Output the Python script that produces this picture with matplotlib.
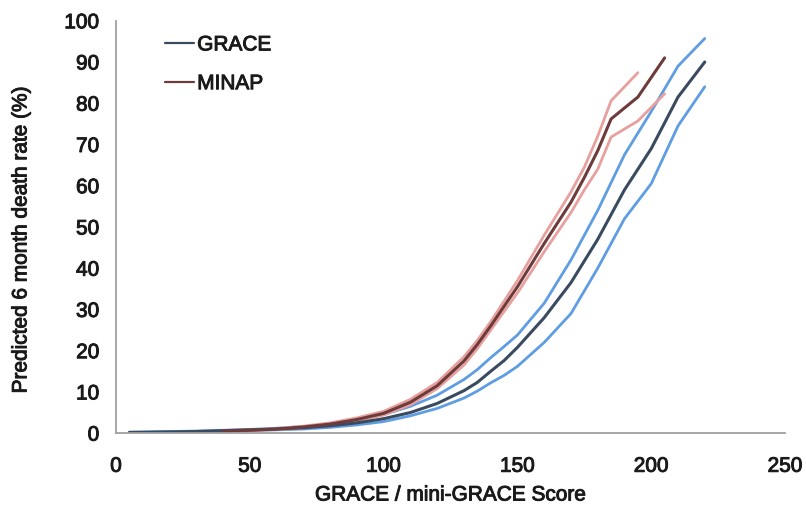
import matplotlib
matplotlib.use("Agg")
import matplotlib.pyplot as plt
import matplotlib.patheffects as pe

plt.rcParams['font.family'] = ['Liberation Sans', 'DejaVu Sans']

# GRACE score model with 95% bounds
grace_x = [5, 10, 20, 30, 40, 50, 60, 70, 80, 90, 100, 110, 120, 130, 135,
           140, 145, 150, 160, 170, 180, 190, 200, 210, 220]
grace_mid = [0.2, 0.2, 0.3, 0.4, 0.6, 0.8, 1.0, 1.3, 1.8, 2.5, 3.5, 5.0, 7.2,
             10.3, 12.3, 15.0, 17.6, 20.8, 28.0, 36.5, 47.0, 59.0, 69.0, 81.5, 90.0]
grace_hi = [0.2, 0.3, 0.4, 0.5, 0.7, 0.9, 1.2, 1.6, 2.2, 3.2, 4.5, 6.5, 9.2,
            13.0, 15.4, 18.3, 21.0, 23.8, 31.5, 42.0, 54.0, 67.5, 78.0, 89.0, 95.7]
grace_lo = [0.1, 0.1, 0.2, 0.3, 0.4, 0.6, 0.8, 1.0, 1.4, 2.0, 2.8, 4.2, 6.0,
            8.5, 10.2, 12.2, 14.0, 16.2, 22.0, 29.0, 40.0, 52.0, 60.5, 74.5, 84.0]

# MINAP (mini-GRACE) model with 95% bounds
minap_x = [40, 50, 60, 70, 80, 90, 100, 110, 120, 130, 135, 140, 150, 160,
           170, 175, 180, 185, 195, 205]
minap_mid = [0.5, 0.7, 1.0, 1.5, 2.2, 3.3, 4.8, 7.5, 11.5, 17.5, 21.5, 26.0,
             35.5, 46.0, 56.0, 62.0, 68.5, 76.2, 81.5, 91.0]
minap_hi_x = minap_x[:-1]
minap_hi = [0.6, 0.8, 1.1, 1.7, 2.5, 3.7, 5.3, 8.2, 12.3, 18.5, 22.5, 27.0,
            37.0, 48.0, 58.5, 64.5, 72.0, 80.6, 87.4]
minap_lo = [0.4, 0.6, 0.9, 1.3, 2.0, 3.0, 4.4, 6.9, 10.8, 16.5, 20.5, 25.0,
            34.0, 44.0, 53.5, 59.0, 64.0, 71.8, 75.7, 82.3]

x_ticks = [0, 50, 100, 150, 200, 250]
y_ticks = list(range(0, 101, 10))

grace_dark = '#3a4a5f'
grace_ci = '#5f9de3'
minap_dark = '#6e3b3b'
minap_ci = '#e8a09e'
text_col = '#1a1a1a'
heavy = [pe.withStroke(linewidth=0.7, foreground=text_col)]

fig = plt.figure(figsize=(8.06, 5.06), dpi=100)
ax = fig.add_axes([0.144, 0.142, 0.830, 0.815])

ax.plot(grace_x, grace_hi, color=grace_ci, lw=2.0, solid_capstyle='round')
ax.plot(grace_x, grace_lo, color=grace_ci, lw=2.0, solid_capstyle='round')
ax.plot(minap_hi_x, minap_hi, color=minap_ci, lw=2.0, solid_capstyle='round')
ax.plot(minap_x, minap_lo, color=minap_ci, lw=2.0, solid_capstyle='round')
ax.plot(grace_x, grace_mid, color=grace_dark, lw=2.2, label='GRACE',
        solid_capstyle='round')
ax.plot(minap_x, minap_mid, color=minap_dark, lw=2.2, label='MINAP',
        solid_capstyle='round')

ax.set_xlim(0, 250)
ax.set_ylim(0, 100)
ax.set_xticks(x_ticks)
ax.set_yticks(y_ticks)
ax.tick_params(axis='both', length=0, labelsize=15, colors=text_col)
ax.tick_params(axis='x', pad=17)
ax.tick_params(axis='y', pad=12)
for lbl in ax.get_xticklabels() + ax.get_yticklabels():
    lbl.set_path_effects(heavy)

for side in ('top', 'right'):
    ax.spines[side].set_visible(False)
for side in ('left', 'bottom'):
    ax.spines[side].set_color('#a0a0a0')
    ax.spines[side].set_linewidth(1.3)

ax.set_xlabel('GRACE / mini-GRACE Score', fontsize=15, color=text_col,
              labelpad=7, path_effects=heavy)
ax.set_ylabel('Predicted 6 month death rate (%)', fontsize=15,
              color=text_col, path_effects=heavy)
ax.yaxis.set_label_coords(-0.128, 0.47)

leg = ax.legend(loc='upper left', bbox_to_anchor=(0.045, 1.01), frameon=False,
                fontsize=15, handlelength=1.4, handletextpad=0.15,
                labelspacing=0.95)
for line in leg.get_lines():
    line.set_linewidth(1.6)
for t in leg.get_texts():
    t.set_color(text_col)
    t.set_path_effects(heavy)

fig.savefig('out.png', dpi=100)
